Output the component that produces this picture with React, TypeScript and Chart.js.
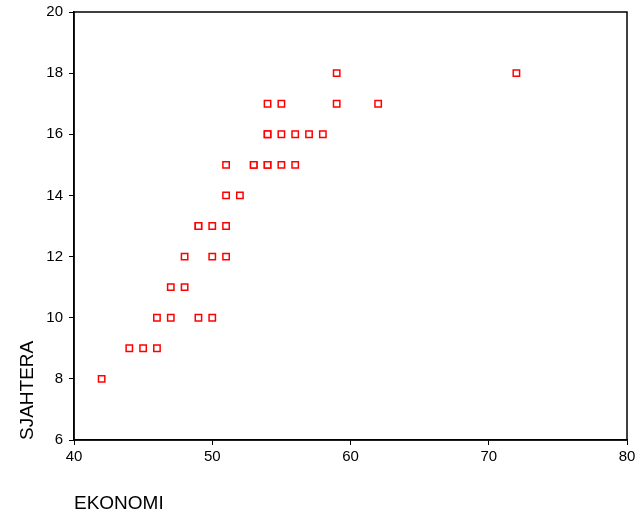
import React, { useEffect, useRef } from "react";
import { Chart, registerables } from "chart.js";

Chart.register(...registerables);

// EKONOMI (x) values and SJAHTERA (y) values
const ekonomi: number[] = [
  42, 44, 45, 46, 46, 47, 49, 50, 47, 48, 48, 50, 51, 49, 49, 50, 51,
  51, 52, 51, 53, 53, 54, 54, 55, 56, 54, 54, 55, 56, 57, 58, 54, 55, 59, 62, 59, 72,
];
const sjahtera: number[] = [
  8, 9, 9, 9, 10, 10, 10, 10, 11, 11, 12, 12, 12, 13, 13, 13, 13,
  14, 14, 15, 15, 15, 15, 15, 15, 15, 16, 16, 16, 16, 16, 16, 17, 17, 17, 17, 18, 18,
];

const xTicks: number[] = [40, 50, 60, 70, 80];
const yTicks: number[] = [6, 8, 10, 12, 14, 16, 18, 20];

const FONT = "'Liberation Sans', Arial, sans-serif";

const framePlugin = {
  id: "frame",
  afterDatasetsDraw(chart: any) {
    const { ctx, chartArea } = chart;
    ctx.save();
    ctx.strokeStyle = "#000";
    ctx.lineWidth = 1.5;
    ctx.strokeRect(chartArea.left, chartArea.top, chartArea.right - chartArea.left, chartArea.bottom - chartArea.top);
    ctx.restore();
  },
};

export default function App() {
  const ref = useRef<HTMLCanvasElement | null>(null);

  useEffect(() => {
    if (!ref.current) return;
    const points = ekonomi.map((x, i) => ({ x, y: sjahtera[i] }));
    const chart = new Chart(ref.current, {
      type: "scatter",
      data: {
        datasets: [
          {
            data: points,
            pointStyle: "rect",
            pointRadius: 4.5,
            pointHoverRadius: 4.5,
            borderColor: "#ff0000",
            backgroundColor: "#ffffff",
            borderWidth: 1.5,
          },
        ],
      },
      options: {
        animation: false,
        responsive: true,
        maintainAspectRatio: false,
        layout: { padding: { top: 12, right: 9, left: 0, bottom: 0 } },
        plugins: { legend: { display: false }, tooltip: { enabled: false } },
        scales: {
          x: {
            type: "linear",
            min: 40,
            max: 80,
            afterBuildTicks: (s: any) => {
              s.ticks = xTicks.map((v) => ({ value: v }));
            },
            afterFit: (s: any) => {
              s.height = 76;
              s.paddingLeft = 0;
              s.paddingRight = 0;
            },
            grid: { display: true, drawOnChartArea: false, drawTicks: true, tickLength: 5, color: "#000", lineWidth: 1 },
            border: { display: true, color: "#000", width: 1.5 },
            ticks: { color: "#000", font: { family: FONT, size: 15 }, padding: 3, maxRotation: 0 },
            title: {
              display: true,
              text: "EKONOMI",
              align: "start",
              color: "#000",
              font: { family: FONT, size: 19 },
              padding: { top: 0, bottom: 0.6 },
            },
          },
          y: {
            type: "linear",
            min: 6,
            max: 20,
            afterBuildTicks: (s: any) => {
              s.ticks = yTicks.map((v) => ({ value: v }));
            },
            afterFit: (s: any) => {
              s.width = 74;
              s.paddingTop = 0;
              s.paddingBottom = 0;
            },
            grid: { display: true, drawOnChartArea: false, drawTicks: true, tickLength: 5, color: "#000", lineWidth: 1 },
            border: { display: true, color: "#000", width: 1.5 },
            ticks: { color: "#000", font: { family: FONT, size: 15 }, padding: 6 },
            title: {
              display: true,
              text: "SJAHTERA",
              align: "start",
              color: "#000",
              font: { family: FONT, size: 19 },
              padding: { top: 16, bottom: 0 },
            },
          },
        },
      },
      plugins: [framePlugin],
    });
    return () => chart.destroy();
  }, []);

  return (
    <div style={{ position: "absolute", left: 0, top: 0, width: 636, height: 516, background: "#fff" }}>
      <canvas ref={ref} />
    </div>
  );
}
